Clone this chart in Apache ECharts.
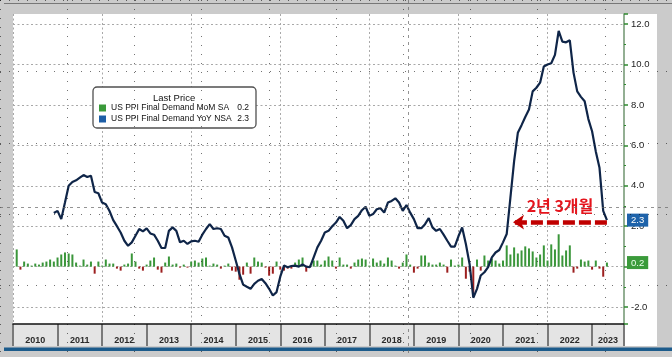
<!DOCTYPE html>
<html><head><meta charset="utf-8">
<script src="https://cdn.jsdelivr.net/npm/echarts@6/dist/echarts.min.js"></script>
<style>html,body{margin:0;padding:0;background:#cbcbcb}#c{width:672px;height:357px}</style>
</head><body><div id="c"></div>
<script>
// ---------------- data ----------------
const yearLabels = ['2010','2011','2012','2013','2014','2015','2016','2017','2018','2019','2020','2021','2022','2023'];
const momSeriesName = 'US PPI Final Demand MoM SA';
const yoySeriesName = 'US PPI Final Demand YoY NSA';
// month index 0 = Jan 2010
const momStartMonth = 0;
const momValues = [
  0.85,-0.15,0.25,0.15,0.05,0.15,0.1,0.2,0.25,0.35,0.25,0.45,      // 2010
  0.6,0.7,0.65,0.6,0.2,0.05,0.35,0.1,0.25,-0.35,0.25,0.05,         // 2011
  0.35,0.15,0.15,-0.1,-0.2,0.1,0.15,0.65,0.25,-0.1,-0.2,0.1,       // 2012
  0.3,0.45,-0.15,-0.3,0.2,0.5,0.1,0.15,-0.05,0.1,-0.05,0.25,       // 2013
  0.3,0.2,0.4,0.45,0.05,0.15,0.1,-0.1,0.05,0.15,-0.2,-0.25,        // 2014
  -0.65,-0.4,0.2,-0.35,0.45,0.25,0.2,-0.05,-0.45,-0.35,0.25,-0.15, // 2015
  -0.2,-0.1,-0.1,0.2,0.35,0.45,-0.25,0.05,0.3,0.3,0.1,0.3,         // 2016
  0.5,0.3,-0.1,0.45,0.1,0.1,-0.1,0.2,0.35,0.4,0.35,0.05,           // 2017
  0.4,0.2,0.3,0.15,0.45,0.3,0.05,-0.1,0.2,0.6,0.1,-0.3,            // 2018
  -0.1,0.55,0.55,0.2,0.1,0.1,0.2,0.1,-0.3,0.35,0.05,0.1,           // 2019
  0.45,-0.6,-0.25,-1.35,0.35,-0.2,0.55,0.3,0.4,0.3,0.15,0.3,       // 2020
  1.05,0.6,0.95,0.65,0.8,1.0,0.9,0.75,0.45,0.6,1.05,0.3,           // 2021
  1.1,0.85,1.6,0.55,0.8,1.05,-0.3,-0.1,0.35,0.25,0.3,-0.15,        // 2022
  0.3,-0.1,-0.5,0.2                                               // 2023
];
const yoyStartMonth = 10; // Nov 2010
const yoyValues = [
  2.65,2.76,2.35,3.17,4.0,4.19,4.27,4.4,4.53,4.43,
  4.5,3.69,3.63,3.17,3.09,2.75,2.3,2.0,1.69,1.28,
  1.03,1.2,1.53,1.86,1.74,1.89,1.64,1.58,1.28,0.92,
  0.92,1.77,1.94,1.77,1.2,1.28,1.12,1.25,1.28,1.23,
  1.58,1.86,2.1,1.86,1.9,1.86,1.53,1.44,0.95,0.3,
  -0.36,-0.89,-1.0,-1.1,-0.85,-0.7,-0.61,-0.82,-1.1,-1.43,
  -1.26,-0.5,0.05,-0.03,0.03,0.05,0.0,0.1,0.0,-0.03,
  0.46,0.95,1.28,1.69,1.77,2.0,2.18,2.46,2.27,1.9,
  2.05,2.35,2.51,2.79,2.96,2.51,2.6,2.84,2.89,2.67,
  3.17,3.25,3.38,3.17,2.76,3.05,2.67,2.35,1.9,1.9,
  2.1,2.4,1.94,1.77,1.86,1.58,1.28,0.99,0.99,1.5,
  1.94,1.12,0.13,-1.54,-1.1,-0.44,-0.28,-0.03,0.46,0.7,
  0.82,1.2,1.61,3.41,5.22,6.62,7.0,7.4,7.77,8.67,
  8.85,9.1,9.9,10.0,10.06,10.48,11.66,11.13,11.1,11.2,
  9.6,8.67,8.4,8.18,7.3,6.7,5.7,4.89,2.76,2.3
];
const yTickValues = [-2, 0, 2, 4, 6, 8, 10, 12];
const annotationText = '2년 3개월';
const annotationLevel = 2.2;
const annotationFromMonth = 159;   // Apr 2023
const annotationToMonth = 133.7;

// ---------------- chart ----------------
const X_MAX = 164.6;           // months from Jan 2010 shown on axis
const Y_MIN = -2.84, Y_MAX = 12.5;
const momData = momValues.map((v, i) => [momStartMonth + i + 1, v]);   // plotted at month end
const yoyData = yoyValues.map((v, i) => [yoyStartMonth + i + 1, v]);
const lastMom = momValues[momValues.length - 1];
const lastYoy = yoyValues[yoyValues.length - 1];
const yearCenters = yearLabels.map((y, i) => i < yearLabels.length - 1 ? i * 12 + 6 : (i * 12 + X_MAX) / 2);

const chart = echarts.init(document.getElementById('c'), null, {renderer: 'canvas'});
const FONT = '"Liberation Sans", Arial, sans-serif';
const slideGrid = {show: true, lineStyle: {color: '#000', width: 1, type: [1, 8], opacity: 0.55}};
chart.setOption({
  backgroundColor: '#cbcbcb',
  animation: false,
  textStyle: {fontFamily: FONT},
  graphic: {elements: [
    {type: 'rect', z: -10, silent: true, shape: {x: 13, y: 14, width: 644, height: 332}, style: {fill: '#ffffff'}},
    {type: 'rect', z: -10, silent: true, shape: {x: 4, y: 347.5, width: 668, height: 3.5}, style: {fill: '#1c5b8b'}},
    {type: 'line', z: 50, silent: true, shape: {x1: 4, y1: 3.5, x2: 672, y2: 3.5}, style: {stroke: '#777', lineWidth: 1}},
    {type: 'line', z: 50, silent: true, shape: {x1: 408.5, y1: 0, x2: 408.5, y2: 357}, style: {stroke: '#666', opacity: 0.7, lineWidth: 1, lineDash: [3, 4]}},
    {type: 'line', z: 50, silent: true, shape: {x1: 0, y1: 207.5, x2: 672, y2: 207.5}, style: {stroke: '#666', opacity: 0.7, lineWidth: 1, lineDash: [3, 4]}}
  ]},
  title: {text: 'Last Price', left: 153, top: 93, padding: 0, z: 10,
    textStyle: {fontSize: 9.5, fontWeight: 'normal', color: '#111', fontFamily: FONT}},
  legend: {
    left: 93, top: 87, orient: 'vertical', padding: [16, 7, 4, 6], itemGap: 1,
    itemWidth: 7, itemHeight: 7, icon: 'rect', selectedMode: false, z: 9,
    backgroundColor: '#fff', borderColor: '#505050', borderWidth: 1.3, borderRadius: 4,
    data: [
      {name: momSeriesName, itemStyle: {color: '#3a9a3a'}},
      {name: yoySeriesName, itemStyle: {color: '#1d5ea6'}}
    ],
    formatter: name => {
      const v = name === momSeriesName ? lastMom : lastYoy;
      return '{n|' + name + '}{v|' + v.toFixed(1) + '}';
    },
    textStyle: {fontSize: 8.5, color: '#111', lineHeight: 10, fontFamily: FONT,
      rich: {n: {width: 123, fontSize: 8.5, color: '#111'}, v: {width: 15, align: 'right', fontSize: 8.5, color: '#111'}}}
  },
  grid: [
    {left: 13, right: 48, top: 14, bottom: 33},
    {left: 13, right: 48, top: 324, height: 22, show: true, backgroundColor: '#e4e4e4', borderWidth: 0},
    {left: -72, top: -35.67, width: 800, height: 403.33}
  ],
  xAxis: [
    {gridIndex: 0, type: 'value', min: 0, max: X_MAX, interval: 24,
      axisLine: {show: true, onZero: false, lineStyle: {color: '#111', width: 1.5}},
      axisTick: {show: false}, axisLabel: {show: false},
      splitLine: {show: true, showMaxLine: false, lineStyle: {color: '#a8a8a8', type: [2, 2.5]}}},
    {gridIndex: 1, type: 'value', position: 'top', min: 0, max: X_MAX, interval: 12,
      axisLine: {show: false, onZero: false}, axisTick: {show: false},
      splitLine: {show: true, lineStyle: {color: '#7a7a7a', width: 2}},
      axisLabel: {inside: true, margin: 12, customValues: yearCenters, color: '#2a2a2a',
        fontSize: 9, fontWeight: 'bold', fontFamily: FONT,
        formatter: v => yearLabels[Math.min(Math.floor(v / 12), yearLabels.length - 1)]}},
    {gridIndex: 2, type: 'value', min: -1, max: 9, interval: 1, z: 20,
      axisLine: {show: false, onZero: false}, axisTick: {show: false}, axisLabel: {show: false},
      splitLine: slideGrid}
  ],
  yAxis: [
    {gridIndex: 0, type: 'value', position: 'right', min: Y_MIN, max: Y_MAX, splitNumber: 7,
      axisLine: {show: true, onZero: false, lineStyle: {color: '#6f946f', width: 1.5}},
      axisTick: {show: true, length: 4, lineStyle: {color: '#2f8a2f', width: 1.5}},
      minorTick: {show: true, splitNumber: 2, length: 2, lineStyle: {color: '#2f8a2f'}},
      axisLabel: {margin: 7, color: '#222', fontSize: 9.5, fontFamily: FONT, customValues: yTickValues,
        formatter: v => v.toFixed(1)},
      splitLine: {show: true, showMinLine: false, showMaxLine: false, lineStyle: {color: '#a8a8a8', type: [2, 2.5]}}},
    {gridIndex: 0, type: 'value', position: 'right', min: Y_MIN, max: Y_MAX, z: 8,
      axisLine: {show: false, onZero: false}, axisTick: {show: false}, splitLine: {show: false},
      axisLabel: {margin: 3, customValues: [lastMom, lastYoy],
        formatter: v => (Math.abs(v - lastYoy) < 1e-9 ? '{b|' : '{g|') + v.toFixed(1) + '}',
        rich: {
          b: {backgroundColor: '#1e63aa', color: '#fff', fontSize: 9.5, padding: [2, 4, 1, 4], fontFamily: FONT},
          g: {backgroundColor: '#3b9b3b', color: '#eaffea', fontSize: 9.5, padding: [2, 4, 1, 4], fontFamily: FONT}
        }}},
    {gridIndex: 1, type: 'value', show: false},
    {gridIndex: 2, type: 'value', min: -1, max: 4, interval: 1, z: 20,
      axisLine: {show: false, onZero: false}, axisTick: {show: false}, axisLabel: {show: false},
      splitLine: slideGrid}
  ],
  series: [
    {name: momSeriesName, type: 'bar', xAxisIndex: 0, yAxisIndex: 0, data: momData, barWidth: 2, z: 2,
      itemStyle: {color: p => p.value[1] >= 0 ? '#3a963a' : '#9c1f1f'}},
    {name: yoySeriesName, type: 'line', xAxisIndex: 0, yAxisIndex: 0, data: yoyData, showSymbol: false, z: 3,
      lineStyle: {color: '#0f2548', width: 2.2}, itemStyle: {color: '#0f2548'},
      markLine: {silent: true, animation: false, symbol: ['none', 'arrow'], symbolSize: [11, 11],
        lineStyle: {color: '#c00000', width: 4.5, type: [12, 4]},
        label: {show: true, position: 'middle', formatter: annotationText, color: '#e5141c', fontSize: 16,
          fontWeight: 'bold', fontFamily: '"Noto Sans CJK KR", sans-serif', distance: 8},
        data: [[{coord: [annotationFromMonth + 1, annotationLevel]}, {coord: [annotationToMonth + 1, annotationLevel]}]]}}
  ]
});
</script></body></html>
